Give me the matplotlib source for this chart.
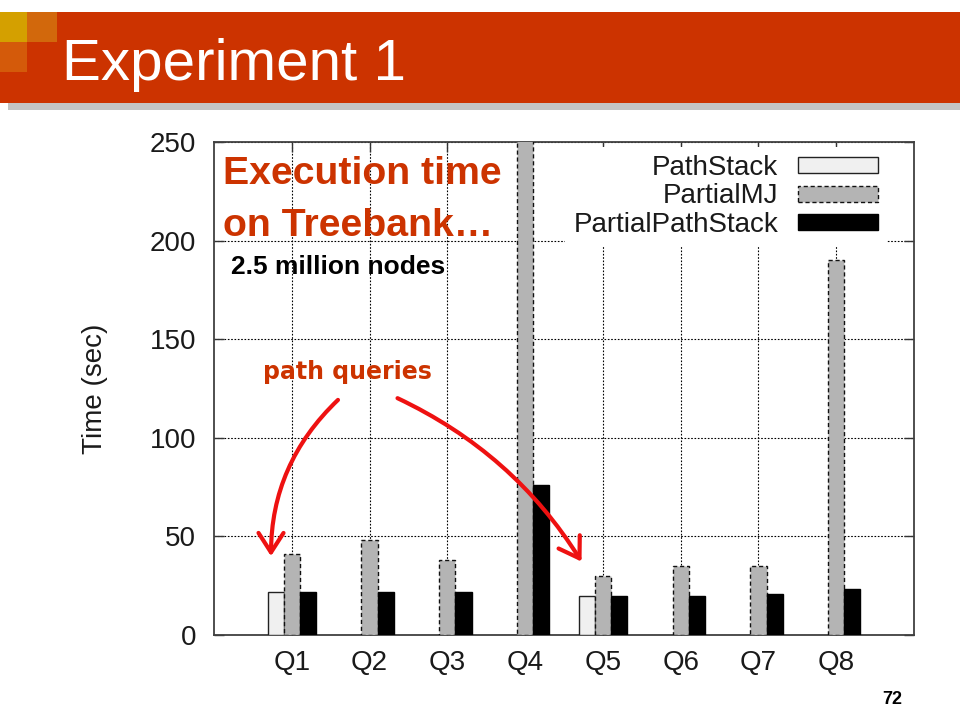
import numpy as np
import matplotlib
matplotlib.use('Agg')
import matplotlib.pyplot as plt
from matplotlib.patches import Rectangle, FancyArrowPatch

# data (PathStack only reported for Q1 and Q5)
queries = ['Q1', 'Q2', 'Q3', 'Q4', 'Q5', 'Q6', 'Q7', 'Q8']
path_stack = [22, None, None, None, 20, None, None, None]
partial_mj = [41, 48, 38, 400, 30, 35, 35, 190]   # Q4 runs off the top of the plot
partial_path_stack = [22, 22, 22, 76, 20, 20, 21, 23.5]

W, H = 960, 720
RED = '#cc3300'

plt.rcParams['font.family'] = ['Liberation Sans', 'DejaVu Sans']

fig = plt.figure(figsize=(W / 100, H / 100), dpi=100)


def fx(x):
    return x / W


def fy(y):
    # slide pixels are measured from the top
    return 1 - y / H


def box(x0, y0, x1, y1, color):
    fig.add_artist(Rectangle((fx(x0), fy(y1)), fx(x1 - x0), (y1 - y0) / H,
                             transform=fig.transFigure, facecolor=color,
                             edgecolor='none', zorder=0))


# title band
box(8, 103, 960, 110, '#c4c4c4')
box(0, 12, 960, 103, RED)
box(0, 12, 27, 42, '#d4a000')
box(27, 12, 57, 42, '#d2680c')
box(0, 42, 27, 72, '#d45a0a')
fig.text(fx(62), fy(80), 'Experiment 1', color='white', fontsize=42,
         ha='left', va='baseline')

# chart
ax = fig.add_axes([fx(214), fy(635), fx(700), 493 / H])
x = np.arange(1, len(queries) + 1)
w = 0.208

ps = np.array([np.nan if v is None else v for v in path_stack], dtype=float)
b1 = ax.bar(x - w, ps, w, color='#f0f0f0', edgecolor='#222222', linewidth=1,
            label='PathStack', zorder=3)
b2 = ax.bar(x, partial_mj, w, color='#b4b4b4', edgecolor='#111111', linewidth=1,
            linestyle=(0, (3, 2)), label='PartialMJ', zorder=3)
b3 = ax.bar(x + w, partial_path_stack, w, color='black', edgecolor='black',
            linewidth=1, label='PartialPathStack', zorder=3)

ax.set_xlim(0, 9)
ax.set_ylim(0, 250)
ax.set_xticks(x)
ax.set_xticklabels(queries)
ax.set_yticks([0, 50, 100, 150, 200, 250])
ax.tick_params(direction='in', length=7, width=1, top=True, right=True,
               labelsize=20, labelcolor='#1a1a1a', color='#333333')
ax.tick_params(axis='y', pad=13)
ax.tick_params(axis='x', pad=11)
ax.grid(True, color='black', linestyle=(0, (1.5, 1.5)), linewidth=0.8)
ax.set_axisbelow(True)
for s in ax.spines.values():
    s.set_color('#404040')
    s.set_linewidth(1.3)

ax.set_ylabel('Time (sec)', fontsize=20, color='#1a1a1a')
ax.yaxis.set_label_coords(-0.151, 0.5)

leg = ax.legend(handles=[b1, b2, b3], loc='upper right',
                bbox_to_anchor=(0.961, 0.99), markerfirst=False, fontsize=20,
                handlelength=2.9, handleheight=0.5, handletextpad=0.7,
                labelspacing=0.08, borderpad=0.3, borderaxespad=0,
                frameon=True, fancybox=False, framealpha=1)
leg.get_frame().set_facecolor('white')
leg.get_frame().set_edgecolor('none')
for t in leg.get_texts():
    t.set_color('#1a1a1a')

# annotations
fig.text(fx(223), fy(184), 'Execution time', color=RED, fontsize=28.3,
         fontweight='bold', ha='left', va='baseline', zorder=5)
fig.text(fx(223), fy(236), 'on Treebank\u2026', color=RED, fontsize=28.3,
         fontweight='bold', ha='left', va='baseline', zorder=5)
fig.text(fx(231), fy(274), '2.5 million nodes', color='black', fontsize=19,
         fontweight='bold', ha='left', va='baseline', zorder=5)
fig.text(fx(263), fy(379), 'path queries', color=RED, fontsize=17,
         fontweight='bold', family='DejaVu Sans', ha='left', va='baseline',
         zorder=5)

arrow = dict(arrowstyle='->,head_length=0.7,head_width=0.45', color='#ee1111',
             lw=3)
fig.add_artist(FancyArrowPatch(
    (fx(340), fy(398)), (fx(271), fy(559)), transform=fig.transFigure,
    connectionstyle='arc3,rad=0.22', zorder=6, mutation_scale=20, **arrow))
fig.add_artist(FancyArrowPatch(
    (fx(395), fy(397)), (fx(583), fy(564)), transform=fig.transFigure,
    connectionstyle='arc3,rad=-0.15', zorder=6, mutation_scale=20, **arrow))

fig.text(fx(892), fy(700), '72', color='black', fontsize=13,
         fontweight='bold', ha='center', va='center')

fig.savefig('out.png', dpi=100)
